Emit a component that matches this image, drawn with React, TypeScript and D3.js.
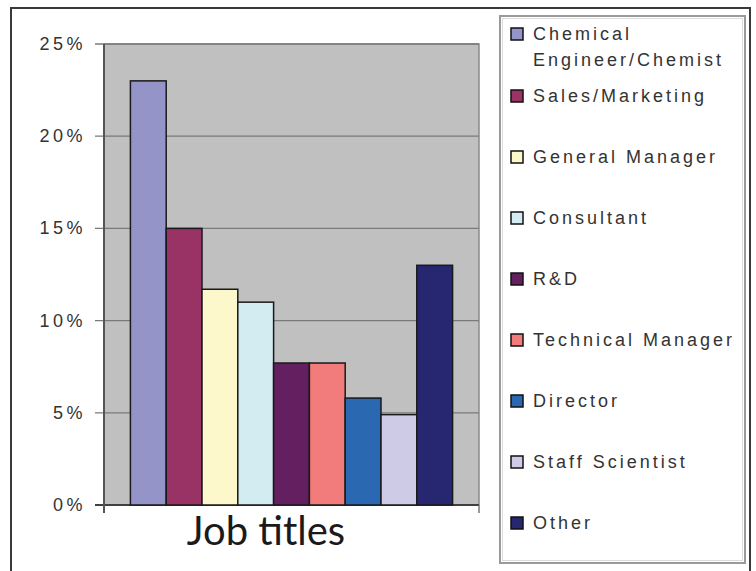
import React from 'react';
import * as d3 from 'd3';

const jobTitles = [
  'Chemical Engineer/Chemist',
  'Sales/Marketing',
  'General Manager',
  'Consultant',
  'R&D',
  'Technical Manager',
  'Director',
  'Staff Scientist',
  'Other',
];
const shares = [23, 15, 11.7, 11, 7.7, 7.7, 5.8, 4.9, 13];
const barColors = ['#9494c8', '#993366', '#fcf8cc', '#d2ecf2', '#641f60', '#f27c7c', '#2a68b2', '#cecbe6', '#262671'];
const yTicks = [0, 5, 10, 15, 20, 25];
const category = ['Job titles'];

const W = 756;
const H = 571;
const plot = { left: 104, right: 479, top: 44, bottom: 505 };
const labelFont = "'Liberation Sans', Arial, sans-serif";

const App: React.FC = () => {
  const y = d3.scaleLinear().domain([0, 25]).range([plot.bottom, plot.top]);
  const xCat = d3.scaleBand().domain(category).range([plot.left, plot.right]).paddingInner(0).paddingOuter(0.082);
  const xBar = d3.scaleBand().domain(jobTitles).range([xCat(category[0])!, xCat(category[0])! + xCat.bandwidth()]);

  const legendY = (i: number) => 40 + i * 61 + (i > 0 ? 1 : 0);

  return (
    <svg width={W} height={H} style={{ position: 'absolute', left: 0, top: 0, background: '#fff' }}>
      {/* outer frame */}
      <rect x={11} y={8} width={739} height={570} fill="#fff" stroke="#3a3a3a" strokeWidth={2} />

      {/* plot area */}
      <rect x={plot.left} y={plot.top} width={plot.right - plot.left} height={plot.bottom - plot.top} fill="#c0c0c0" stroke="#8a8a8a" strokeWidth={1.5} />

      {/* gridlines and y ticks */}
      {yTicks.map(t => (
        <g key={t}>
          <line x1={95} x2={plot.right} y1={y(t)} y2={y(t)} stroke={t === 0 ? '#404040' : '#7a7a7a'} strokeWidth={t === 0 ? 2 : 1.3} />
          <text x={86} y={y(t) + 6} textAnchor="end" fontFamily={labelFont} fontSize={18} letterSpacing={3.5} fill="#333">
            {t}%
          </text>
        </g>
      ))}

      {/* bars */}
      {jobTitles.map((d, i) => (
        <rect
          key={d}
          x={xBar(d)}
          y={y(shares[i])}
          width={xBar.bandwidth()}
          height={y(0) - y(shares[i])}
          fill={barColors[i]}
          stroke="#1a1a1a"
          strokeWidth={1.5}
        />
      ))}

      {/* axes */}
      <line x1={plot.left} x2={plot.left} y1={plot.top} y2={plot.bottom + 8} stroke="#555" strokeWidth={2} />
      <line x1={plot.right} x2={plot.right} y1={plot.bottom} y2={plot.bottom + 8} stroke="#777" strokeWidth={1.5} />

      <text x={266} y={545} textAnchor="middle" fontFamily="Lato, 'Open Sans', sans-serif" fontSize={40} fill="#1a1a1a">
        {category[0]}
      </text>

      {/* legend */}
      <rect x={500} y={16} width={245} height={547} fill="#fff" stroke="#9a9a9a" strokeWidth={2} />
      <rect x={502.5} y={18.5} width={240} height={542} fill="none" stroke="#dcdcdc" strokeWidth={1} />
      {jobTitles.map((d, i) => {
        const by = legendY(i);
        const lines = i === 0 ? ['Chemical', 'Engineer/Chemist'] : [d];
        return (
          <g key={d}>
            <rect x={511} y={by - 12} width={12} height={12} fill={barColors[i]} stroke="#111" strokeWidth={1.5} />
            {lines.map((l, j) => (
              <text key={l} x={533} y={by + j * 26} fontFamily={labelFont} fontSize={18} letterSpacing={3} fill="#333">
                {l}
              </text>
            ))}
          </g>
        );
      })}
    </svg>
  );
};

export default App;
